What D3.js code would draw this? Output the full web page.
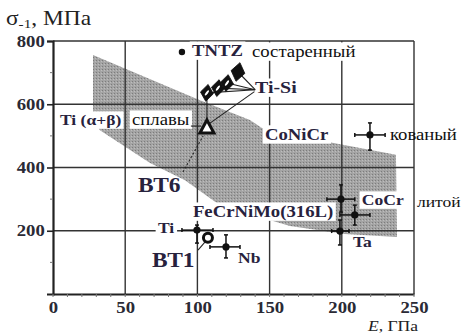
<!DOCTYPE html>
<html>
<head>
<meta charset="utf-8">
<script src="https://cdn.jsdelivr.net/npm/d3@7"></script>
<style>
  html, body { margin: 0; padding: 0; background: #fff; }
  svg { display: block; }
</style>
</head>
<body>
<div id="chart"></div>
<script>
// Axis ticks
const xTicks = [0, 50, 100, 150, 200, 250];
const yTicks = [200, 400, 600, 800];
const xMinor = d3.range(0, 251, 10);
const yMinor = [100, 300, 500, 700];

// Region of materials (E, σ-1) outline
const bandE     = [27.7, 101.8, 136.4, 144.7, 195.2, 237.5, 238.2, 202.2, 164.1, 115.6, 91.4, 67.2, 32.5, 27.7];
const bandSigma = [756, 613, 550, 525, 477, 440, 180, 190, 215, 281, 360, 414, 518, 556];

// Points with error bars: name, E, σ-1, E range, σ range
const ptName  = ["Ti", "Nb", "CoNiCr", "CoCr1", "CoCr2", "Ta"];
const ptE     = [99.7, 119.8, 219.5, 199.4, 209.0, 198.7];
const ptS     = [202, 149, 503, 300, 250, 199];
const ptELo   = [89.3, 108.7, 209.0, 189.7, 198.7, 193.0];
const ptEHi   = [110.8, 129.5, 230.0, 209.0, 219.5, 205.0];
const ptSLo   = [161, 114, 455, 259, 218, 155];
const ptSHi   = [218, 187, 541, 345, 281, 234];

// Ti-Si alloys (diamonds)
const tiSiE = [106.6, 114.2, 120.5, 128.1];
const tiSiS = [636, 651, 667, 702];

// Single markers
const tntz = {E: 89.3, S: 765};
const vt6  = {E: 106.6, S: 525};
const vt1  = {E: 107.3, S: 178};

// Annotation texts and their anchors (E, σ-1)
const labText = ["TNTZ", "состаренный", "Ti-Si", "Ti (α+β)", "сплавы", "CoNiCr", "кованый", "ВТ6", "FeCrNiMo(316L)", "CoCr", "литой", "Ti", "ВТ1", "Nb", "Ta"];
const labE    = [96.3, 137.8, 139.9, 4.8, 54.7, 146.8, 233.3, 58.8, 96.9, 213.9, 252.0, 72.7, 68.5, 128.1, 207.7];
const labS    = [752, 749, 635, 534, 534, 487, 487, 322, 243, 281, 275, 193, 85, 98, 148];

// Leader lines: [E1, σ1, E2, σ2, dashed]
const leaders = [
  [140.0, 646, 106.6, 636, 0],
  [140.0, 646, 114.2, 651, 0],
  [140.0, 646, 120.5, 667, 0],
  [140.0, 646, 128.1, 702, 0],
  [139.5, 640, 108.0, 538, 0],
  [90.0, 386, 104.0, 500, 1],
  [100.4, 139, 105.2, 164, 0],
  [95.5, 531, 102.5, 531, 0],
  [106.6, 630, 106.6, 540, 0]
];

// Text styling per annotation: size, bold, white backing
const labStyle = {
  "TNTZ": [16, 1, 1], "состаренный": [16, 0, 1], "Ti-Si": [17, 1, 1],
  "Ti (α+β)": [15, 1, 1], "сплавы": [16, 0, 1], "CoNiCr": [16, 1, 1],
  "кованый": [16, 0, 0], "ВТ6": [20, 1, 0], "FeCrNiMo(316L)": [16, 1, 1],
  "CoCr": [15, 1, 1], "литой": [15, 0, 0], "Ti": [15, 1, 1],
  "ВТ1": [20, 1, 0], "Nb": [15, 1, 0], "Ta": [15, 1, 0]
};

const serif = "Liberation Serif";
const stretch = 1.17;   // type is set slightly wide

const W = 464, H = 336;
const x = d3.scaleLinear().domain([0, 250]).range([53, 414]);
const y = d3.scaleLinear().domain([0, 800]).range([294, 41]);

const svg = d3.select("#chart").append("svg").attr("width", W).attr("height", H)
  .attr("font-family", serif);
const defs = svg.append("defs");
const pat = defs.append("pattern").attr("id", "stipple")
  .attr("width", 3).attr("height", 3).attr("patternUnits", "userSpaceOnUse");
pat.append("rect").attr("width", 3).attr("height", 3).attr("fill", "#a4a4a4");
pat.append("rect").attr("width", 1).attr("height", 1).attr("fill", "#7c7c7c");
pat.append("rect").attr("x", 2).attr("y", 1).attr("width", 1).attr("height", 1).attr("fill", "#bdbdbd");

const ink = "#222";
const labInk = "#27223d";

// gray region
svg.append("path")
  .attr("d", d3.line().x(d => x(d[0])).y(d => y(d[1])).curve(d3.curveLinearClosed)(bandE.map((e, i) => [e, bandSigma[i]])))
  .attr("fill", "url(#stipple)");

// grid
const grid = svg.append("g").attr("stroke", "#333").attr("stroke-width", 1.4);
grid.selectAll("line.v").data(xTicks.slice(1)).join("line")
  .attr("x1", d => x(d)).attr("x2", d => x(d)).attr("y1", y(0)).attr("y2", y(800));
grid.selectAll("line.h").data(yTicks).join("line")
  .attr("x1", x(0)).attr("x2", x(250)).attr("y1", d => y(d)).attr("y2", d => y(d));

// axes
const xAxis = svg.append("g").attr("transform", `translate(0,${y(0)})`)
  .call(d3.axisBottom(x).tickValues(xTicks).tickSize(0).tickPadding(7));
const yAxis = svg.append("g").attr("transform", `translate(${x(0)},0)`)
  .call(d3.axisLeft(y).tickValues(yTicks).tickSize(6).tickPadding(2));
[xAxis, yAxis].forEach(g => {
  g.attr("font-family", serif);
  g.select(".domain").attr("stroke", "#222").attr("stroke-width", 2.2);
  g.selectAll(".tick line").attr("stroke", "#222").attr("stroke-width", 1.6);
  g.selectAll("text").attr("font-weight", "bold")
    .attr("font-size", 16).attr("fill", "#2a2a35")
    .attr("transform", `scale(${stretch},1)`);
});
xAxis.selectAll("text").attr("dy", "0.75em");
yAxis.selectAll("text").attr("x", -7);
svg.append("g").selectAll("line").data(xMinor).join("line")
  .attr("x1", d => x(d)).attr("x2", d => x(d)).attr("y1", y(0)).attr("y2", y(0) + 3)
  .attr("stroke", "#777").attr("stroke-width", 1);
svg.append("g").selectAll("line").data(yMinor).join("line")
  .attr("x1", x(0) - 3).attr("x2", x(0)).attr("y1", d => y(d)).attr("y2", d => y(d))
  .attr("stroke", "#777").attr("stroke-width", 1);

// layers
const labels = labText.map((t, i) => ({t, e: labE[i], s: labS[i], size: labStyle[t][0], bold: labStyle[t][1], box: labStyle[t][2]}));
const boxLayer = svg.append("g");
const lineLayer = svg.append("g");
const markLayer = svg.append("g");
const textLayer = svg.append("g");

const place = d => `translate(${x(d.e)},${y(d.s)}) scale(${stretch},1)`;
const texts = textLayer.selectAll("text").data(labels).join("text")
  .attr("transform", place)
  .attr("font-size", d => d.size)
  .attr("font-weight", d => d.bold ? "bold" : "normal")
  .attr("fill", d => d.bold ? labInk : "#111")
  .text(d => d.t);
texts.each(function(d) {
  if (!d.box) return;
  const b = this.getBBox();
  boxLayer.append("rect").attr("transform", place(d))
    .attr("x", b.x - 2).attr("y", b.y)
    .attr("width", b.width + 4).attr("height", b.height).attr("fill", "#fff");
});

// leader lines
lineLayer.selectAll("line").data(leaders).join("line")
  .attr("x1", d => x(d[0])).attr("y1", d => y(d[1]))
  .attr("x2", d => x(d[2])).attr("y2", d => y(d[3]))
  .attr("stroke", "#222").attr("stroke-width", 1.1)
  .attr("stroke-dasharray", d => d[4] ? "2,2" : null);

// error bars and points
const pts = ptName.map((n, i) => ({n, e: ptE[i], s: ptS[i], el: ptELo[i], eh: ptEHi[i], sl: ptSLo[i], sh: ptSHi[i]}));
const eb = markLayer.append("g").attr("stroke", "#111").attr("stroke-width", 1.5);
pts.forEach(p => {
  eb.append("line").attr("x1", x(p.el)).attr("x2", x(p.eh)).attr("y1", y(p.s)).attr("y2", y(p.s));
  eb.append("line").attr("x1", x(p.e)).attr("x2", x(p.e)).attr("y1", y(p.sl)).attr("y2", y(p.sh));
  [[p.el, p.s, 0], [p.eh, p.s, 0], [p.e, p.sl, 1], [p.e, p.sh, 1]].forEach(c => {
    const cx = x(c[0]), cy = y(c[1]);
    if (c[2]) eb.append("line").attr("x1", cx - 2).attr("x2", cx + 2).attr("y1", cy).attr("y2", cy);
    else eb.append("line").attr("x1", cx).attr("x2", cx).attr("y1", cy - 2).attr("y2", cy + 2);
  });
});
markLayer.append("g").selectAll("circle").data(pts).join("circle")
  .attr("cx", d => x(d.e)).attr("cy", d => y(d.s)).attr("r", 3.6).attr("fill", "#111");

// TNTZ
markLayer.append("circle").attr("cx", x(tntz.E)).attr("cy", y(tntz.S)).attr("r", 3.2).attr("fill", "#111");

// BT1 ring
markLayer.append("circle").attr("cx", x(vt1.E)).attr("cy", y(vt1.S)).attr("r", 4.5)
  .attr("fill", "#fff").attr("stroke", "#111").attr("stroke-width", 3);

// BT6 triangle
markLayer.append("path")
  .attr("transform", `translate(${x(vt6.E)},${y(vt6.S)})`)
  .attr("d", "M0,-8 L7,5 L-7,5 Z")
  .attr("fill", "#fff").attr("stroke", "#111").attr("stroke-width", 3).attr("stroke-linejoin", "miter");

// Ti-Si diamonds
const dia = markLayer.append("g").selectAll("g").data(tiSiE.map((e, i) => ({e, s: tiSiS[i], i}))).join("g")
  .attr("transform", d => `translate(${x(d.e)},${y(d.s)}) rotate(${d.i === 3 ? 12 : 8})`);
dia.append("path").attr("d", d => d.i === 3 ? "M0,-9.5 L7,0 L0,9.5 L-7,0 Z" : "M0,-8.5 L6.5,0 L0,8.5 L-6.5,0 Z")
  .attr("fill", "#111").attr("stroke", "#111").attr("stroke-width", 0.8).attr("stroke-linejoin", "round");
dia.filter(d => d.i < 3).append("ellipse").attr("rx", 1.1).attr("ry", 3.2)
  .attr("transform", "rotate(28)").attr("fill", "#fff");

// axis titles
const yt = svg.append("text").attr("transform", `translate(6,25) scale(${stretch},1)`)
  .attr("font-size", 20).attr("fill", ink);
yt.append("tspan").text("σ");
yt.append("tspan").attr("font-size", 13).attr("dy", 3).text("-1");
yt.append("tspan").attr("dy", -3).text(", МПа");

const xt = svg.append("text").attr("transform", `translate(368,331) scale(${stretch},1)`)
  .attr("font-size", 15).attr("fill", ink);
xt.append("tspan").attr("font-style", "italic").text("E");
xt.append("tspan").text(", ГПа");
</script>
</body>
</html>
